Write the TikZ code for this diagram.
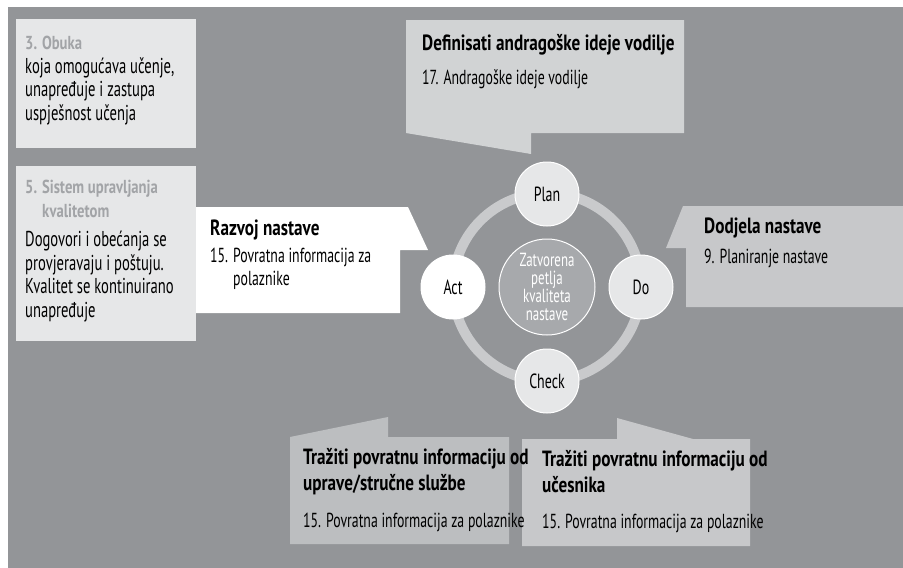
\documentclass[tikz,border=0pt]{standalone}
\usepackage{fontspec}
\setmainfont{PT Sans}[FakeStretch=0.68, BoldFeatures={FakeStretch=0.78}]
\definecolor{bggray}{HTML}{939598}
\definecolor{boxlight}{HTML}{E6E7E8}
\definecolor{boxplan}{HTML}{D1D3D4}
\definecolor{boxdo}{HTML}{C7C8CA}
\definecolor{boxcheck}{HTML}{BCBEC0}
\definecolor{ringgray}{HTML}{C9CACC}
\definecolor{coregray}{HTML}{A7A9AC}
\definecolor{headgray}{HTML}{A2A4A7}
\tikzset{
	txt/.style={anchor=base west, inner sep=0pt, align=left, font=\fontsize{20.3}{23}\selectfont},
	sidetxt/.style={txt, font=\fontsize{21.5}{23.5}\selectfont},
	head/.style={txt, font=\fontsize{22}{26}\selectfont\bfseries},
	sidehead/.style={txt, text=headgray, font=\fontsize{18.8}{24}\selectfont\bfseries},
	phase/.style={circle, draw=white, line width=1pt, minimum size=64pt, inner sep=0pt, font=\fontsize{20.5}{20}\selectfont},
}
\begin{document}
\begin{tikzpicture}[x=1pt,y=-1pt,line join=round]
	\useasboundingbox (0,0) rectangle (903,568);
	\fill[bggray] (8,7) rectangle (903,568);
	% left column
	\fill[boxlight] (16,19) rectangle (196,148);
	\fill[boxlight] (16,166) rectangle (196,341);
	% callouts
	\coordinate (R1) at (196,207);
	\coordinate (R2) at (408,207);
	\coordinate (R3) at (428,250);
	\coordinate (R4) at (400,250);
	\coordinate (R5) at (400,313);
	\coordinate (R6) at (196,313);
	\fill[white] (R1)--(R2)--(R3)--(R4)--(R5)--(R6)--cycle;
	\coordinate (P1) at (406,20);
	\coordinate (P2) at (684,20);
	\coordinate (P3) at (684,133);
	\coordinate (P4) at (531,133);
	\coordinate (P5) at (531,154);
	\coordinate (P6) at (406,133);
	\fill[boxplan] (P1)--(P2)--(P3)--(P4)--(P5)--(P6)--cycle;
	\coordinate (D1) at (683,206);
	\coordinate (D2) at (903,206);
	\coordinate (D3) at (903,307);
	\coordinate (D4) at (686,307);
	\coordinate (D5) at (686,248);
	\coordinate (D6) at (666,248);
	\fill[boxdo] (D1)--(D2)--(D3)--(D4)--(D5)--(D6)--cycle;
	\coordinate (L1) at (290,437);
	\coordinate (L2) at (388,417);
	\coordinate (L3) at (388,437);
	\coordinate (L4) at (509,437);
	\coordinate (L5) at (509,544);
	\coordinate (L6) at (290,544);
	\fill[boxcheck] (L1)--(L2)--(L3)--(L4)--(L5)--(L6)--cycle;
	\coordinate (K1) at (522,439);
	\coordinate (K2) at (617,439);
	\coordinate (K3) at (617,418);
	\coordinate (K4) at (693,439);
	\coordinate (K5) at (750,439);
	\coordinate (K6) at (750,546);
	\coordinate (K7) at (522,546);
	\fill[boxdo] (K1)--(K2)--(K3)--(K4)--(K5)--(K6)--(K7)--cycle;
	% cycle
	\coordinate (O) at (547,287);
	\draw[ringgray, line width=10pt] (O) circle (94pt);
	\node[circle, draw=white, line width=1pt, fill=coregray, minimum size=96pt, inner sep=0pt, text=white, align=center, font=\fontsize{19}{18}\selectfont] (core) at (O) {Zatvorena\\petlja\\kvaliteta\\nastave};
	\node[phase, fill=boxlight] (plan) at (547,194) {Plan};
	\node[phase, fill=boxlight] (do) at (641,287) {Do};
	\node[phase, fill=boxlight] (check) at (547,381) {Check};
	\node[phase, fill=white] (act) at (453,287) {Act};
	% texts (multi-line nodes sit on the baseline of their last line)
	\node[sidehead] (obukaH) at (25,49) {3. Obuka};
	\node[sidetxt] (obukaT) at (25,120) {koja omogućava učenje,\\unapređuje i zastupa\\uspješnost učenja};
	\node[sidehead] (sistemH) at (25,217) {5. Sistem upravljanja\\\hspace*{17pt}kvalitetom};
	\node[sidetxt] (sistemT) at (25,317) {Dogovori i obećanja se\\provjeravaju i poštuju.\\Kvalitet se kontinuirano\\unapređuje};
	\node[head] (razvojH) at (210,235) {Razvoj nastave};
	\node[txt] (razvojT) at (210,285) {15. Povratna informacija za\\\hspace*{23pt}polaznike};
	\node[head] (planH) at (422,50) {Definisati andragoške ideje vodilje};
	\node[txt] (planT) at (422,84) {17. Andragoške ideje vodilje};
	\node[head] (doH) at (704,233) {Dodjela nastave};
	\node[txt] (doT) at (704,263) {9. Planiranje nastave};
	\node[head] (checkLH) at (303,490) {Tražiti povratnu informaciju od\\uprave/stručne službe};
	\node[txt] (checkLT) at (303,527) {15. Povratna informacija za polaznike};
	\node[head] (checkRH) at (542,492) {Tražiti povratnu informaciju od\\učesnika};
	\node[txt] (checkRT) at (542,528) {15. Povratna informacija za polaznike};
\end{tikzpicture}
\end{document}
